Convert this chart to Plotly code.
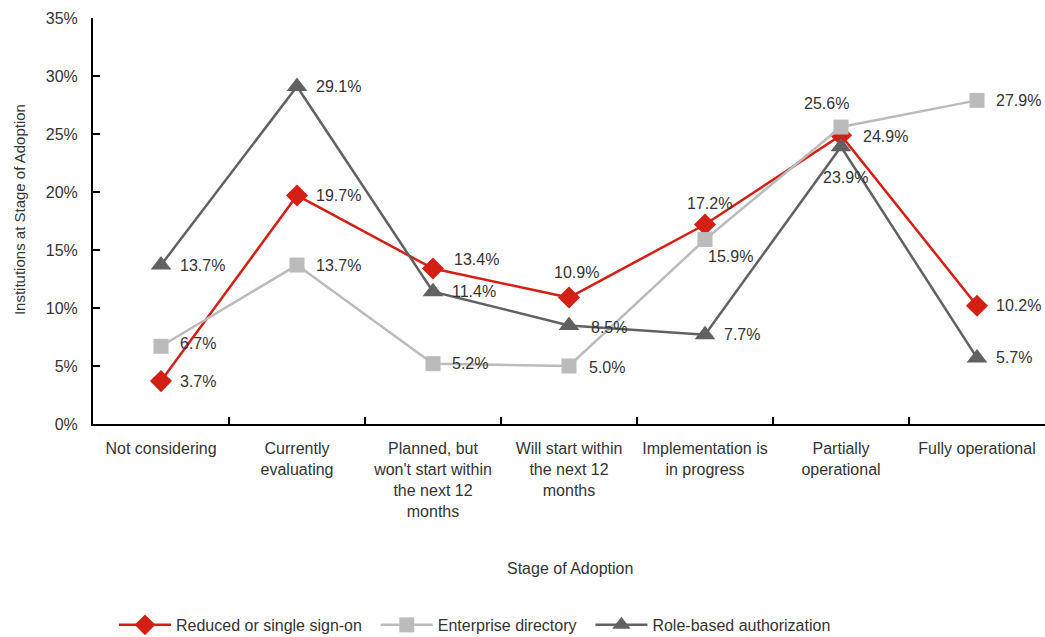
import plotly.graph_objects as go

categories = ["Not considering", "Currently<br>evaluating",
              "Planned, but<br>won't start within<br>the next 12<br>months",
              "Will start within<br>the next 12<br>months",
              "Implementation is<br>in progress", "Partially<br>operational",
              "Fully operational"]
sso = [3.7, 19.7, 13.4, 10.9, 17.2, 24.9, 10.2]
enterprise = [6.7, 13.7, 5.2, 5.0, 15.9, 25.6, 27.9]
role = [13.7, 29.1, 11.4, 8.5, 7.7, 23.9, 5.7]
series_names = ["Reduced or single sign-on", "Enterprise directory", "Role-based authorization"]

# label offsets (xshift, yshift, xanchor) per point
sso_off = [(17, 0, "left"), (17, 0, "left"), (19, 9, "left"), (7, 25, "center"),
           (4, 21, "center"), (20, -1, "left"), (17, 0, "left")]
ent_off = [(17, 3, "left"), (17, 0, "left"), (17, 0, "left"), (18, -1, "left"),
           (1, -17, "left"), (10, 24, "right"), (17, 0, "left")]
role_off = [(17, 0, "left"), (17, 0, "left"), (17, 0, "left"), (20, -2, "left"),
            (17, 0, "left"), (4, -31, "center"), (17, 0, "left")]

FONT = "Liberation Sans, Arial, sans-serif"
TXT = "#333333"
colors = ["#D41F14", "#BBBBBB", "#616161"]
symbols = ["diamond", "square", "triangle-up"]
sizes = [17, 15, 18]
NB = "\u00a0\u00a0"

fig = go.Figure()
annotations = []
for name, vals, col, sym, sz in zip(series_names, [sso, enterprise, role], colors, symbols, sizes):
    fig.add_trace(go.Scatter(x=categories, y=vals, name=name + NB, mode="lines+markers",
                             line=dict(color=col, width=2.5),
                             marker=dict(symbol=sym, size=sz, color=col, line=dict(width=0))))
for vals, offs in [(role, role_off), (enterprise, ent_off), (sso, sso_off)]:
    for c, v, (dx, dy, xa) in zip(categories, vals, offs):
        annotations.append(dict(x=c, y=v, text=f"{v:.1f}%", showarrow=False, xanchor=xa,
                                yanchor="middle", xshift=dx, yshift=dy,
                                font=dict(family=FONT, size=16, color=TXT)))

annotations.append(dict(xref="paper", yref="paper", x=0.501, y=-0.3547, text="Stage of Adoption",
                        showarrow=False, xanchor="center", yanchor="middle",
                        font=dict(family=FONT, size=16, color=TXT)))
annotations.append(dict(xref="paper", yref="paper", x=-0.0777, y=0.527,
                        text="Institutions at Stage of Adoption", textangle=-90,
                        showarrow=False, xanchor="center", yanchor="middle",
                        font=dict(family=FONT, size=15, color=TXT)))

fig.update_layout(
    width=1045, height=637,
    margin=dict(l=93, r=0, t=18, b=213, autoexpand=False),
    plot_bgcolor="white", paper_bgcolor="white",
    font=dict(family=FONT, size=16, color=TXT),
    showlegend=True,
    legend=dict(orientation="h", x=0.406, xanchor="center", y=-0.495, yanchor="middle",
                font=dict(family=FONT, size=16, color=TXT), itemwidth=52, tracegroupgap=0),
    annotations=annotations,
)
fig.update_xaxes(type="category", range=[-0.5, 6.5], showline=True, linecolor="black", linewidth=2,
                 ticks="inside", tickson="boundaries", ticklen=7, tickcolor="black", tickwidth=2,
                 showgrid=False, zeroline=False, ticklabelstandoff=9, automargin=False,
                 tickfont=dict(size=16, color=TXT))
fig.update_yaxes(range=[0, 35], dtick=5, ticksuffix="%", showline=True, linecolor="black", linewidth=2,
                 ticks="inside", ticklen=7, tickcolor="black", tickwidth=2,
                 showgrid=False, zeroline=False, ticklabelstandoff=10, automargin=False,
                 tickfont=dict(size=16, color=TXT))

fig.write_html("out.html")
